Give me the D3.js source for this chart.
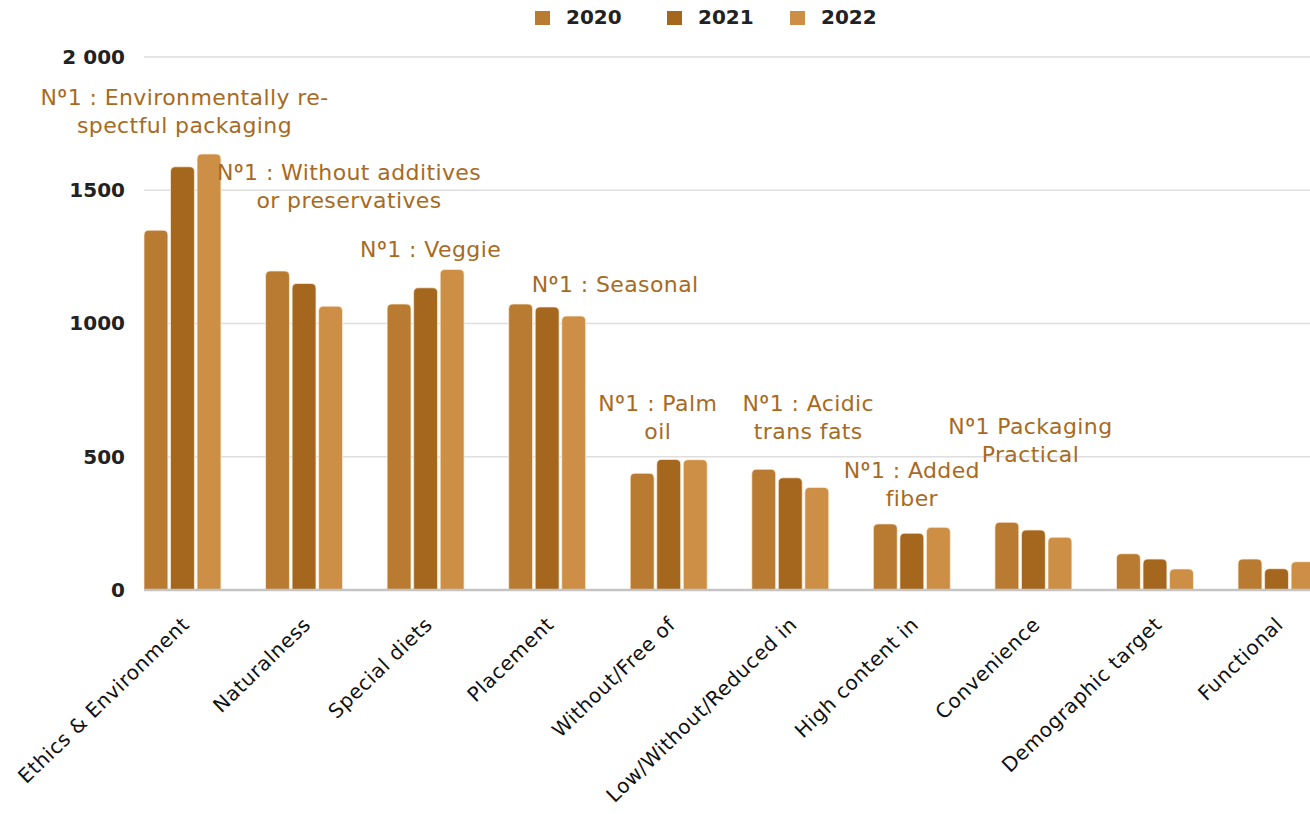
<!DOCTYPE html>
<html>
<head>
<meta charset="utf-8">
<script src="https://cdn.jsdelivr.net/npm/d3@7"></script>
<style>
  html, body { margin: 0; padding: 0; background: #fff; }
  svg { display: block; }
  text { font-family: "DejaVu Sans", sans-serif; }
</style>
</head>
<body>
<svg id="chart" width="1310" height="814"></svg>
<script>
// Claims by category, number of product launches per year
const categories = [
  "Ethics & Environment", "Naturalness", "Special diets", "Placement",
  "Without/Free of", "Low/Without/Reduced in", "High content in",
  "Convenience", "Demographic target", "Functional"
];
const years = ["2020", "2021", "2022"];
const values2020 = [1350, 1197, 1073, 1073, 438, 453, 248, 254, 136, 116];
const values2021 = [1588, 1150, 1134, 1062, 490, 421, 213, 225, 116, 80];
const values2022 = [1636, 1065, 1203, 1028, 489, 385, 235, 198, 79, 106];
const yTicks = [0, 500, 1000, 1500, 2000];
const yTickLabels = ["0", "500", "1000", "1500", "2 000"];

// Top claim per category
const topClaims = [
  ["Nº1 : Environmentally re-", "spectful packaging"],
  ["Nº1 : Without additives", "or preservatives"],
  ["Nº1 : Veggie"],
  ["Nº1 : Seasonal"],
  ["Nº1 : Palm", "oil"],
  ["Nº1 : Acidic", "trans fats"],
  ["Nº1 : Added", "fiber"],
  ["Nº1 Packaging", "Practical"]
];
// Where each claim note sits: horizontal shift from the group centre, and the value level of its first line
const claimLayout = [
  { dx: 2,   at: 1820 },
  { dx: 45,  at: 1540 },
  { dx: 5,   at: 1250 },
  { dx: 68,  at: 1120 },
  { dx: -11, at: 670 },
  { dx: 18,  at: 670 },
  { dx: 0,   at: 420 },
  { dx: -3,  at: 585 }
];

const colors = ["#b97b32", "#a5671e", "#cd8f46"];
const noteColor = "#a86a22";

const svg = d3.select("#chart");
const W = 1310, H = 814;
const margin = { top: 57, left: 144, bottom: 224 };
const plotBottom = H - margin.bottom; // 590

const x = d3.scaleBand()
  .domain(categories)
  .range([margin.left, 1315])
  .paddingInner(0.367)
  .paddingOuter(0);

const xs = d3.scaleBand()
  .domain(years)
  .range([0, x.bandwidth()])
  .paddingInner(0.1);

const y = d3.scaleLinear()
  .domain([0, 2000])
  .range([plotBottom, margin.top]);

const series = [values2020, values2021, values2022];
const rows = categories.map((c, i) => ({
  category: c,
  vals: years.map((yr, k) => ({ year: yr, value: series[k][i], k }))
}));

// Gridlines
svg.append("g")
  .selectAll("line")
  .data(yTicks.filter(t => t > 0))
  .join("line")
  .attr("x1", margin.left)
  .attr("x2", W)
  .attr("y1", d => y(d))
  .attr("y2", d => y(d))
  .attr("stroke", "#dedede")
  .attr("stroke-width", 1.5);

// Y axis labels
const yAxis = d3.axisLeft(y)
  .tickValues(yTicks)
  .tickSize(0)
  .tickPadding(19)
  .tickFormat((d, i) => yTickLabels[i]);

svg.append("g")
  .attr("transform", `translate(${margin.left},0)`)
  .call(yAxis)
  .call(g => g.select(".domain").remove())
  .call(g => g.selectAll("text")
    .attr("fill", "#222")
    .attr("font-size", 20)
    .attr("font-weight", 700)
    .attr("font-family", "DejaVu Sans, sans-serif"));

// Bars
const groups = svg.append("g")
  .selectAll("g")
  .data(rows)
  .join("g")
  .attr("transform", d => `translate(${x(d.category)},0)`);

groups.selectAll("path")
  .data(d => d.vals)
  .join("path")
  .attr("fill", d => colors[d.k])
  .attr("stroke", "rgba(255,240,220,0.7)")
  .attr("stroke-width", 1)
  .attr("d", d => {
    const x0 = xs(d.year), w = xs.bandwidth();
    const top = y(d.value), bot = y(0);
    const r = Math.min(5, (bot - top) / 2);
    return `M${x0},${bot} V${top + r} Q${x0},${top} ${x0 + r},${top} H${x0 + w - r} Q${x0 + w},${top} ${x0 + w},${top + r} V${bot} Z`;
  });

// Baseline
svg.append("line")
  .attr("x1", margin.left)
  .attr("x2", W)
  .attr("y1", y(0))
  .attr("y2", y(0))
  .attr("stroke", "#c4c4c4")
  .attr("stroke-width", 2.5);

// X axis labels
const xAxis = d3.axisBottom(x).tickSize(0).tickPadding(0);
svg.append("g")
  .attr("transform", `translate(0,${plotBottom})`)
  .call(xAxis)
  .call(g => g.select(".domain").remove())
  .call(g => g.selectAll("text")
    .attr("fill", "#111")
    .attr("font-size", 20)
    .attr("font-family", "DejaVu Sans, sans-serif")
    .attr("letter-spacing", 0.6)
    .attr("dy", 0)
    .attr("text-anchor", "end")
    .attr("transform", "translate(8,36) rotate(-44)"));

// Top claim notes
const notes = svg.append("g")
  .selectAll("text")
  .data(topClaims.map((lines, i) => ({ lines, i })))
  .join("text")
  .attr("fill", noteColor)
  .attr("font-size", 22)
  .attr("letter-spacing", 0.4)
  .attr("text-anchor", "middle")
  .attr("transform", d => {
    const c = categories[d.i];
    const L = claimLayout[d.i];
    return `translate(${x(c) + x.bandwidth() / 2 + L.dx},${y(L.at)})`;
  });

const lineSpans = notes.selectAll("tspan.line")
  .data(d => d.lines)
  .join("tspan")
  .attr("class", "line")
  .attr("x", 0)
  .attr("dy", (d, j) => j === 0 ? 0 : 28);

// The ordinal sign is set in Inter, whose "º" has no underline bar
lineSpans.selectAll("tspan.seg")
  .data(d => d.split(/(º)/).filter(s => s.length))
  .join("tspan")
  .attr("class", "seg")
  .attr("font-family", s => s === "º" ? "Inter, sans-serif" : null)
  .text(s => s);

// Legend
const legend = svg.append("g")
  .selectAll("g")
  .data(years)
  .join("g")
  .attr("transform", (d, i) => `translate(${[535, 667, 790][i]},11)`);

legend.append("rect")
  .attr("width", 15)
  .attr("height", 14)
  .attr("fill", (d, i) => colors[i]);

legend.append("text")
  .attr("x", 31)
  .attr("y", 13)
  .attr("fill", "#222")
  .attr("font-size", 20)
  .attr("font-weight", 700)
  .text(d => d);
</script>
</body>
</html>
